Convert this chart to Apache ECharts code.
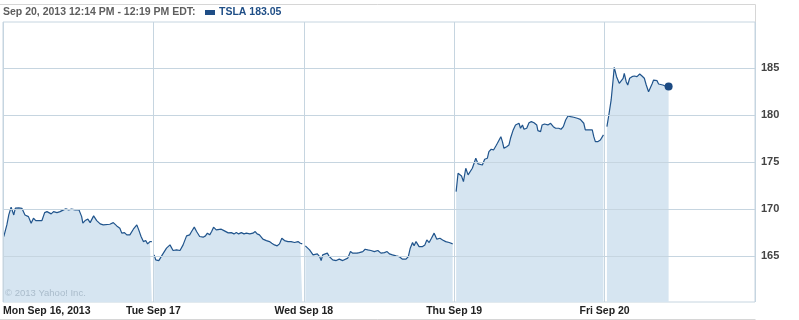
<!DOCTYPE html>
<html>
<head>
<meta charset="utf-8">
<script src="https://cdn.jsdelivr.net/npm/echarts@6/dist/echarts.min.js"></script>
<style>
html,body{margin:0;padding:0;background:#fff;}
#chart{width:799px;height:320px;}
</style>
</head>
<body>
<div id="chart"></div>
<script>
// Day labels shown under the day separators
const dayLabels = ['Mon Sep 16, 2013', 'Tue Sep 17', 'Wed Sep 18', 'Thu Sep 19', 'Fri Sep 20'];
const yTicks = [165, 170, 175, 180, 185];
const minutesPerDay = 390;

// minutes after the 9:30 open, and TSLA price, per trading day
const monMin = [2,10,15,21,28,32,41,49,57,66,73,79,85,101,108,114,118,125,131,140,148,157,163,170,178,187,197,204,207,213,220,226,235,243,252,260,277,286,295,303,308,315,321,329,338,347,352,358,364,370,375,381,386];
const monPx = [167.09,168.33,169.39,170.21,169.39,170.11,170.14,170.09,169.39,169.21,168.51,169.04,168.79,168.79,169.64,169.74,169.57,169.50,169.74,169.64,169.74,169.93,170.03,169.93,170.00,169.93,169.93,169.21,168.51,168.79,168.94,168.57,169.29,168.79,168.44,168.33,168.40,168.57,168.22,167.98,167.45,167.51,167.27,167.27,167.87,168.33,167.80,167.09,166.55,166.66,166.31,166.55,166.55];

const tueMin = [2,6,14,19,23,28,34,43,51,60,69,77,81,86,94,99,106,112,120,129,135,140,146,151,156,163,168,176,183,194,202,209,215,221,228,235,241,250,258,264,269,275,284,293,301,307,314,321,327,333,340,349,357,366,375,381,386];
const tuePx = [165.14,164.61,164.53,164.61,165.14,165.03,165.85,166.20,165.60,165.67,165.60,166.20,166.31,167.16,167.27,167.62,168.09,167.62,167.09,167.02,167.16,167.45,167.27,167.62,168.09,167.80,167.80,167.87,167.72,167.48,167.51,167.37,167.51,167.37,167.51,167.37,167.45,167.37,167.45,167.62,167.37,167.27,166.81,166.66,166.55,166.38,166.20,166.10,166.31,166.91,166.66,166.55,166.55,166.45,166.55,166.38,166.31];

const wedMin = [4,15,24,35,41,45,49,54,61,66,75,84,92,101,114,121,127,131,138,144,153,159,166,174,183,192,200,209,216,222,230,239,247,256,265,271,276,282,286,291,299,308,314,319,325,331,338,345,353,360,368,377,386];
const wedPx = [166.10,165.67,165.14,165.24,164.96,164.53,165.14,165.24,165.32,164.96,164.61,164.53,164.68,164.53,164.79,165.49,165.32,165.14,165.32,165.38,165.49,165.74,165.67,165.60,165.49,165.60,165.32,165.38,165.49,165.24,165.14,165.03,164.96,164.68,164.68,164.96,165.85,166.45,166.10,166.55,166.02,166.02,166.20,166.73,166.45,166.91,167.45,166.81,166.91,166.73,166.55,166.45,166.31];

const thuMin = [5,10,15,19,24,30,36,41,47,51,56,62,67,73,79,86,90,96,102,108,112,116,121,125,129,136,142,146,153,159,164,168,172,177,181,188,194,200,207,214,217,224,228,234,239,243,250,257,263,271,277,283,289,295,302,310,319,327,332,336,340,345,349,353,358,362,366,372,379,383,387];
const thuPx = [171.87,173.83,173.83,173.54,172.94,174.36,173.65,173.54,174.36,174.18,175.43,174.82,174.61,174.71,175.32,175.43,176.13,176.38,176.31,176.73,177.02,176.84,177.72,177.19,176.49,176.66,176.84,177.55,178.44,178.97,178.79,179.15,178.62,178.97,178.51,178.62,179.21,179.32,179.21,178.97,178.36,178.26,178.97,179.07,179.21,178.97,179.15,178.79,178.62,178.62,178.51,178.79,179.50,179.93,179.85,179.79,179.68,179.57,179.50,179.15,178.44,178.62,178.44,178.62,178.44,177.72,177.19,177.19,177.37,177.45,177.91];

const friMin = [6,11,17,22,25,31,34,38,43,48,51,56,60,65,71,77,84,91,97,103,108,114,118,123,127,136,140,144,151,157,166];
const friPx = [178.79,180.03,181.63,183.75,185.11,184.11,184.29,183.40,183.22,183.94,184.47,183.57,183.22,183.94,184.11,184.18,184.11,184.39,184.18,183.94,183.22,182.51,182.69,183.33,183.75,183.68,183.33,183.40,183.22,183.12,183.05];

const days = [[monMin, monPx], [tueMin, tuePx], [wedMin, wedPx], [thuMin, thuPx], [friMin, friPx]];

const LINE = '#20548c';
const FILL = '#d6e5f1';
const GRID = '#c6d5e0';
const FONT = '"Liberation Sans", Arial, sans-serif';

const series = days.map(function (d, i) {
  return {
    type: 'line',
    name: dayLabels[i],
    data: d[0].map(function (m, k) { return [i * minutesPerDay + m, d[1][k]]; }),
    symbol: 'none',
    z: 2,
    lineStyle: { color: LINE, width: 1.2 },
    areaStyle: { color: FILL, opacity: 1 },
    animation: false
  };
});
const lastIdx = friMin.length - 1;
series.push({
  type: 'scatter',
  data: [[4 * minutesPerDay + friMin[lastIdx], friPx[lastIdx]]],
  symbol: 'circle',
  symbolSize: 8,
  itemStyle: { color: '#1c4a82', opacity: 1 },
  z: 5,
  animation: false
});

const chart = echarts.init(document.getElementById('chart'), null, { renderer: 'canvas' });
chart.setOption({
  animation: false,
  backgroundColor: '#fff',
  grid: { left: 1, right: 44, top: 22, bottom: 18, show: true, borderColor: GRID, borderWidth: 1, backgroundColor: 'transparent' },
  xAxis: {
    type: 'value',
    min: 0,
    max: minutesPerDay * 5,
    interval: minutesPerDay,
    z: 3,
    axisLine: { show: false },
    axisTick: { show: false },
    splitLine: { show: true, lineStyle: { color: GRID, width: 1 } },
    axisLabel: {
      margin: 4,
      color: '#222',
      fontWeight: 'bold',
      fontSize: 10.5,
      fontFamily: FONT,
      showMaxLabel: false,
      alignMinLabel: 'left',
      formatter: function (v) { return dayLabels[Math.round(v / minutesPerDay)] || ''; }
    }
  },
  yAxis: {
    type: 'value',
    position: 'right',
    min: 160.12,
    max: 189.93,
    z: 3,
    axisLine: { show: false },
    axisTick: { show: false, customValues: yTicks },
    splitLine: { show: true, lineStyle: { color: GRID, width: 1 } },
    axisLabel: {
      customValues: yTicks,
      margin: 6,
      color: '#444',
      fontWeight: 'bold',
      fontSize: 11,
      fontFamily: FONT
    }
  },
  graphic: [
    { type: 'line', shape: { x1: 0, y1: 4.5, x2: 755.5, y2: 4.5 }, style: { stroke: '#d6d6d6', lineWidth: 1 }, silent: true },
    { type: 'line', shape: { x1: 755.5, y1: 4.5, x2: 755.5, y2: 22 }, style: { stroke: '#d6d6d6', lineWidth: 1 }, silent: true },
    { type: 'line', shape: { x1: 0, y1: 319.5, x2: 755.5, y2: 319.5 }, style: { stroke: '#d6d6d6', lineWidth: 1 }, silent: true },
    { type: 'text', left: 3, top: 7, style: { text: 'Sep 20, 2013 12:14 PM - 12:19 PM EDT:', fill: '#5e5e5e', font: 'bold 10.5px ' + FONT } },
    { type: 'rect', shape: { x: 205, y: 10, width: 10, height: 5 }, style: { fill: '#1f4e86' } },
    { type: 'text', left: 219, top: 7, style: { text: 'TSLA 183.05', fill: '#1f4e86', font: 'bold 10.5px ' + FONT } },
    { type: 'text', left: 5, top: 288, z: 10, style: { text: '\u00a9 2013 Yahoo! Inc.', fill: '#aabccb', font: '9.5px ' + FONT } }
  ],
  series: series
});
</script>
</body>
</html>
